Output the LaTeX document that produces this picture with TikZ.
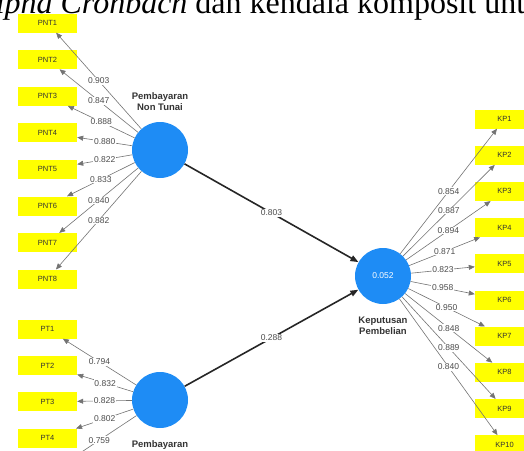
\documentclass[tikz,border=0pt]{standalone}
\usepackage{fontspec}
\setmainfont{Liberation Serif}
\setsansfont{Liberation Sans}
\usetikzlibrary{arrows.meta, positioning}
\definecolor{lvblue}{RGB}{30,140,245}
\definecolor{indyellow}{RGB}{255,255,0}

\begin{document}
\begin{tikzpicture}[
    x=1pt, y=-1pt,
    ind/.style={fill=indyellow, minimum width=59pt, minimum height=19pt, inner sep=0pt,
                font=\sffamily\fontsize{7.5}{8}\selectfont, text=black!80},
    lv/.style={circle, fill=lvblue, minimum size=56pt, inner sep=0pt,
               font=\sffamily\fontsize{8.5}{9}\selectfont, text=white},
    lvname/.style={align=center, inner sep=1pt,
                   font=\sffamily\bfseries\fontsize{9.5}{11}\selectfont, text=black!80},
    loadarr/.style={-{Triangle[length=6pt, width=5pt]}, draw=black!55, line width=0.6pt},
    innerarr/.style={-{Triangle[length=8pt, width=6pt]}, draw=black!85, line width=1.6pt},
    coef/.style={fill=white, inner sep=0.8pt, font=\sffamily\fontsize{8.5}{9}\selectfont,
                 text=black!70},
  ]
  \useasboundingbox (0,0) rectangle (524,450);
  \clip (0,0) rectangle (524,450);

  % --- caption line cut off at the top ---
  \node[anchor=base west, inner sep=0pt, font=\fontsize{32}{34}\selectfont] (cap) at (-24,13)
    {\textit{Alpha Cronbach} dan kendala komposit untuk};

  % --- latent variables ---
  \node[lv] (pnt) at (160,150) {};
  \node[lv] (pt) at (160,400) {};
  \node[lv] (kp) at (383,276) {0.052};
  \node[lvname, above=10pt of pnt] (pntname) {Pembayaran\\ Non Tunai};
  \node[lvname, below=11pt of pt] (ptname) {Pembayaran};
  \node[lvname, below=12pt of kp] (kpname) {Keputusan\\ Pembelian};

  % --- indicators of Pembayaran Non Tunai ---
  \node[ind] (PNT1) at (47.5,23) {PNT1};
  \node[ind, below=17.2pt of PNT1] (PNT2) {PNT2};
  \node[ind, below=17.2pt of PNT2] (PNT3) {PNT3};
  \node[ind, below=17.2pt of PNT3] (PNT4) {PNT4};
  \node[ind, below=17.2pt of PNT4] (PNT5) {PNT5};
  \node[ind, below=17.2pt of PNT5] (PNT6) {PNT6};
  \node[ind, below=17.2pt of PNT6] (PNT7) {PNT7};
  \node[ind, below=17.2pt of PNT7] (PNT8) {PNT8};

  \draw[loadarr] (pnt) -- node[coef] {0.903} (PNT1);
  \draw[loadarr] (pnt) -- node[coef] {0.847} (PNT2);
  \draw[loadarr] (pnt) -- node[coef] {0.888} (PNT3);
  \draw[loadarr] (pnt) -- node[coef] {0.880} (PNT4);
  \draw[loadarr] (pnt) -- node[coef] {0.822} (PNT5);
  \draw[loadarr] (pnt) -- node[coef] {0.833} (PNT6);
  \draw[loadarr] (pnt) -- node[coef] {0.840} (PNT7);
  \draw[loadarr] (pnt) -- node[coef] {0.882} (PNT8);

  % --- indicators of Pembayaran Tunai (PT5 lies below the edge) ---
  \node[ind] (PT1) at (47.5,329) {PT1};
  \node[ind, below=17pt of PT1] (PT2) {PT2};
  \node[ind, below=17pt of PT2] (PT3) {PT3};
  \node[ind, below=17pt of PT3] (PT4) {PT4};
  \node[ind, below=17pt of PT4] (PT5) {};

  \draw[loadarr] (pt) -- node[coef] {0.794} (PT1);
  \draw[loadarr] (pt) -- node[coef] {0.832} (PT2);
  \draw[loadarr] (pt) -- node[coef] {0.828} (PT3);
  \draw[loadarr] (pt) -- node[coef] {0.802} (PT4);
  \draw[loadarr] (pt) -- node[coef] {0.759} (PT5);

  % --- indicators of Keputusan Pembelian ---
  \node[ind] (KP1) at (504.5,119) {KP1};
  \node[ind, below=16.8pt of KP1] (KP2) {KP2};
  \node[ind, below=16.8pt of KP2] (KP3) {KP3};
  \node[ind, below=16.8pt of KP3] (KP4) {KP4};
  \node[ind, below=16.8pt of KP4] (KP5) {KP5};
  \node[ind, below=16.8pt of KP5] (KP6) {KP6};
  \node[ind, below=16.8pt of KP6] (KP7) {KP7};
  \node[ind, below=16.8pt of KP7] (KP8) {KP8};
  \node[ind, below=16.8pt of KP8] (KP9) {KP9};
  \node[ind, below=16.8pt of KP9] (KP10) {KP10};

  \draw[loadarr] (kp) -- node[coef] {0.854} (KP1);
  \draw[loadarr] (kp) -- node[coef] {0.887} (KP2);
  \draw[loadarr] (kp) -- node[coef] {0.894} (KP3);
  \draw[loadarr] (kp) -- node[coef] {0.871} (KP4);
  \draw[loadarr] (kp) -- node[coef] {0.823} (KP5);
  \draw[loadarr] (kp) -- node[coef] {0.958} (KP6);
  \draw[loadarr] (kp) -- node[coef] {0.950} (KP7);
  \draw[loadarr] (kp) -- node[coef] {0.848} (KP8);
  \draw[loadarr] (kp) -- node[coef] {0.889} (KP9);
  \draw[loadarr] (kp) -- node[coef] {0.840} (KP10);

  % --- structural paths ---
  \draw[innerarr] (pnt) -- node[coef] {0.803} (kp);
  \draw[innerarr] (pt) -- node[coef] {0.288} (kp);
\end{tikzpicture}
\end{document}
